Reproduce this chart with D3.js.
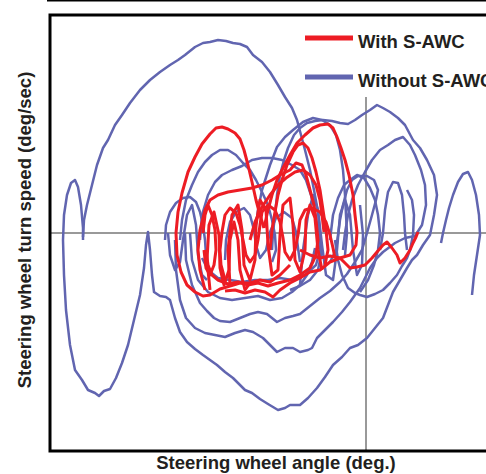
<!DOCTYPE html>
<head>
  <meta charset="utf-8">
  <script src="https://d3js.org/d3.v7.min.js"></script>
  <style>
    body { margin: 0; background: #fff; }
    svg { width: 486px; height: 474px; display: block; }
    text { font-family: "Liberation Sans", Arial, sans-serif; font-weight: bold; fill: #231f20; }
  </style>
</head>

<body>
  <svg></svg>
  <script>
    // [steering wheel angle, turn speed] pairs
    var outerLoop = [[-283,-7],[-283,5],[-285,28],[-288,46],[-291,53],[-295,50],[-299,38],[-302,18],[-303,-7],
      [-302,-42],[-300,-77],[-296,-112],[-291,-137],[-284,-147],[-278,-157],[-271,-160],[-267,-163],[-262,-158],
      [-256,-156],[-250,-145],[-244,-130],[-238,-112],[-232,-87],[-226,-62],[-222,-35],[-220,-12],[-218,1],
      [-216,-17],[-214,-42],[-212,-59],[-206,-63],[-200,-64],[-196,-67],[-191,-85],[-186,-99],[-179,-109],
      [-171,-116],[-163,-122],[-156,-127],[-149,-132],[-141,-139],[-133,-145],[-126,-152],[-121,-157],[-114,-160],
      [-106,-166],[-98,-171],[-88,-177],[-81,-175],[-76,-172],[-66,-172],[-58,-165],[-49,-155],[-41,-144],
      [-33,-132],[-24,-124],[-16,-115],[-8,-112],[1,-105],[9,-95],[17,-85],[22,-72],[27,-59],[34,-47],[41,-35],
      [46,-27],[51,-22],[57,-12],[64,-2],[68,18],[71,38],[68,58],[61,73],[54,85],[47,93],[39,108],[32,115],
      [24,121],[17,125],[11,128],[4,123],[-4,118],[-11,113],[-18,109],[-26,110],[-34,112],[-43,113],[-51,112],
      [-59,110],[-66,105],[-72,98],[-78,85],[-82,73],[-86,58],[-89,38],[-91,18],[-93,0],[-94,-17]];
    var topArc = [[-283,-4],[-282,13],[-279,28],[-274,48],[-269,68],[-263,85],[-258,93],[-251,108],[-244,118],
      [-236,130],[-226,143],[-216,153],[-206,161],[-196,168],[-188,173],[-181,178],[-171,186],[-163,190],
      [-156,191],[-148,193],[-140,192],[-133,190],[-126,189],[-119,186],[-113,178],[-104,171],[-96,161],
      [-88,148],[-81,136],[-74,125],[-69,113],[-65,98],[-61,83],[-56,63],[-52,43],[-48,21],[-46,0],[-45,-22],
      [-48,-37],[-56,-47],[-66,-53],[-76,-57]];
    var secondLoop = [[-191,-7],[-190,-37],[-186,-67],[-180,-85],[-171,-95],[-161,-100],[-151,-102],[-141,-104],
      [-131,-100],[-121,-97],[-113,-99],[-103,-105],[-96,-112],[-89,-119],[-81,-115],[-73,-115],[-66,-119],
      [-58,-117],[-54,-115],[-49,-105],[-41,-97],[-33,-89],[-24,-79],[-16,-69],[-6,-55],[4,-35],[11,-25],
      [17,-19],[29,-10],[39,-5],[49,-3],[56,8],[60,28],[59,48],[55,63],[49,78],[44,88],[37,96],[29,93],[22,88],
      [14,83],[6,73],[-1,61],[-8,48],[-14,33],[-18,18],[-21,0],[-23,-17]];
    var thirdLoop = [[-181,0],[-180,-27],[-174,-52],[-166,-70],[-159,-78],[-152,-85],[-146,-88],[-136,-89],
      [-126,-85],[-116,-81],[-108,-79],[-99,-81],[-89,-89],[-81,-85],[-73,-83],[-66,-81],[-56,-73],[-46,-65],
      [-36,-58],[-26,-49],[-19,-41],[-11,-29],[-4,-17],[1,0],[6,18],[10,33],[12,43],[8,53],[1,57],[-8,57],
      [-14,53],[-19,43],[-23,28],[-26,13],[-28,-2],[-30,-17],[-36,-29]];
    var rightDip = [[-31,-7],[-28,-27],[-24,-42],[-18,-55],[-11,-60],[-6,-62],[1,-64],[9,-61],[17,-57],[24,-50],
      [31,-42],[36,-33],[41,-25],[44,-17],[47,-2],[48,18],[46,33],[41,43]];
    var rightBump = [[14,-17],[17,0],[19,23],[22,41],[27,51],[32,50],[36,38],[38,18],[39,0],[41,-17]];
    var farRightBump = [[106,-62],[108,-42],[111,-22],[114,-2],[113,18],[110,38],[106,53],[102,61],[97,59],
      [92,51],[87,38],[83,25],[80,13],[77,0],[75,-10]];
    var midArcA = [[-186,-7],[-184,13],[-180,33],[-174,48],[-168,61],[-161,71],[-154,78],[-146,83],[-138,83],
      [-130,78],[-123,70],[-116,63],[-110,53],[-104,41],[-98,28],[-94,13],[-91,-2],[-90,-17],[-94,-29]];
    var midLoopB = [[-166,-7],[-164,18],[-158,38],[-151,51],[-144,58],[-134,63],[-124,67],[-114,73],[-104,75],
      [-94,75],[-84,73],[-74,68],[-66,63],[-60,53],[-55,38],[-51,21],[-48,3],[-46,-17],[-50,-32],[-61,-42],
      [-74,-47],[-86,-45],[-98,-47],[-111,-47],[-124,-49],[-136,-47],[-148,-45],[-158,-37],[-164,-25]];
    var midArcC = [[-111,0],[-108,23],[-104,43],[-96,68],[-89,86],[-81,96],[-73,103],[-63,111],[-53,115],
      [-44,113],[-36,108],[-30,98],[-26,83],[-23,63],[-21,38],[-20,18],[-19,0],[-21,-22]];
    var lowArcD = [[-176,0],[-174,-27],[-168,-47],[-158,-59],[-146,-65],[-134,-67],[-121,-65],[-108,-63],
      [-96,-67],[-84,-65],[-74,-59],[-66,-52],[-59,-42],[-54,-29],[-51,-15]];
    var nearZeroE = [[-36,-7],[-33,18],[-28,35],[-22,48],[-16,53],[-9,58],[-2,55],[4,45],[9,33],[12,18],[14,0],
      [12,-17],[8,-32],[2,-47],[-6,-59]];
    var leftBumpF = [[-201,-7],[-200,8],[-196,21],[-190,30],[-183,35],[-176,36],[-170,31],[-166,21],[-163,8],
      [-161,-7],[-160,-22]];
    var wiggleG = [[-141,-27],[-140,-7],[-136,11],[-130,21],[-122,25],[-116,18],[-112,3],[-110,-12],[-106,-25],
      [-100,-17],[-96,1],[-90,15],[-82,21],[-74,15],[-70,1],[-68,-15],[-66,-29]];
    var wiggleH = [[-66,-52],[-63,-17],[-58,18],[-53,38],[-48,23],[-44,-12],[-40,-42],[-33,-47],[-29,-17],
      [-26,18],[-21,33],[-16,18],[-13,-17],[-9,-42],[-4,-32],[-3,-2],[-6,28]];
    var wiggleI = [[-198,0],[-196,-22],[-191,-37],[-186,-29],[-183,-7],[-179,18],[-174,28],[-170,8],[-168,-22],
      [-164,-42],[-159,-47]];

    var redLeft = [[-76,-32],[-86,-42],[-96,-49],[-106,-47],[-116,-50],[-126,-50],[-136,-53],[-146,-56],
      [-156,-62],[-163,-63],[-171,-59],[-179,-52],[-185,-39],[-189,-22],[-190,0],[-188,21],[-184,40],[-178,61],
      [-171,76],[-164,89],[-156,99],[-150,105],[-144,106],[-138,104],[-131,100],[-126,94],[-122,83],[-118,68],
      [-114,51],[-110,33],[-106,18],[-102,5]];
    var redRight = [[-102,5],[-98,23],[-94,38],[-89,53],[-83,65],[-76,78],[-69,90],[-61,98],[-53,105],[-46,108],
      [-38,109],[-33,105],[-29,96],[-25,85],[-21,73],[-17,58],[-13,38],[-11,18],[-9,1],[-10,-12],[-16,-22],
      [-26,-25],[-36,-29],[-46,-37],[-56,-39],[-66,-45],[-76,-50],[-86,-57],[-93,-64],[-101,-59],[-111,-57],
      [-121,-60],[-131,-57],[-141,-58]];
    var redTail = [[-66,-17],[-56,-22],[-46,-25],[-36,-23],[-26,-25],[-16,-35],[-9,-34],[-1,-32],[6,-25],[11,-19],
      [17,-12],[21,-9],[26,-15],[31,-22],[34,-30],[39,-25],[44,-17],[47,-10],[50,-4],[52,1]];
    var redInner = [[-161,-57],[-166,-37],[-168,-17],[-166,3],[-161,23],[-156,33],[-148,38],[-138,41],[-126,43],
      [-114,45],[-104,48],[-94,53],[-86,58],[-76,63],[-70,70],[-64,68],[-60,58],[-56,43],[-52,28],[-50,13],
      [-48,-7],[-50,-22],[-56,-35],[-66,-42],[-76,-47],[-88,-50],[-98,-53],[-108,-50],[-118,-52],[-128,-49],
      [-138,-51],[-148,-47],[-154,-42],[-158,-32],[-160,-17]];
    var redWiggle = [[-141,-47],[-145,-32],[-146,-17],[-144,1],[-141,18],[-136,25],[-130,20],[-126,8],[-123,-7],
      [-120,-22],[-116,-29],[-111,-22],[-108,-7],[-106,8],[-104,21],[-98,28],[-91,23],[-86,11],[-83,-5],
      [-81,-19],[-76,-27],[-71,-17],[-68,-2],[-66,13],[-61,23],[-54,25],[-46,21],[-40,11],[-36,-2],[-33,-15],
      [-31,-25]];
    var redArcHigh = [[-96,-17],[-94,3],[-91,21],[-88,38],[-84,53],[-79,68],[-73,81],[-68,88],[-63,90],[-58,85],
      [-54,75],[-50,61],[-46,43],[-43,23],[-40,3],[-38,-17],[-41,-32]];
    var redArcMid = [[-116,-7],[-111,11],[-104,26],[-96,38],[-88,48],[-80,55],[-71,61],[-63,63],[-56,58],
      [-50,48],[-46,33],[-44,18],[-42,1]];
    var redSmall = [[-163,0],[-161,18],[-158,28],[-154,18],[-151,3],[-150,-17],[-152,-32],[-156,-42],[-160,-35],
      [-162,-17]];
    var redSquiggleA = [[-136,-52],[-138,-17],[-134,18],[-128,28],[-124,3],[-122,-32],[-116,-47],[-111,-27],
      [-110,8],[-106,33],[-100,23],[-98,-12],[-94,-42],[-88,-37],[-86,-2],[-83,28],[-76,35],[-73,8],[-71,-27],
      [-66,-39],[-61,-17],[-60,13],[-56,28],[-51,15],[-48,-17],[-44,-37]];
    var redSquiggleB = [[-156,-57],[-159,-27],[-157,8],[-152,21],[-147,-2],[-146,-35],[-142,-52],[-137,-37],
      [-136,-7],[-132,11],[-128,-7],[-126,-37],[-121,-57],[-116,-50]];

    var withoutSawc = [outerLoop, topArc, secondLoop, thirdLoop, rightDip, rightBump, farRightBump,
      midArcA, midLoopB, midArcC, lowArcD, nearZeroE, leftBumpF, wiggleG, wiggleH, wiggleI];
    var withSawc = [redLeft, redRight, redTail, redInner, redWiggle, redArcHigh, redArcMid, redSmall,
      redSquiggleA, redSquiggleB];
    var legendLabels = ['With S-AWC', 'Without S-AWC'];
    var legendColors = ['#ed1c24', '#6165b0'];

    var svg = d3.select('svg');
    var plotLeft = 50, plotTop = 15, plotBottom = 451, plotRight = 486;

    var x = d3.scaleLinear().domain([-316, 120]).range([plotLeft, plotRight]);
    var y = d3.scaleLinear().domain([-218, 218]).range([plotBottom, plotTop]);

    // top rule
    svg.append('line')
      .attr('x1', 47).attr('x2', 486).attr('y1', 0.5).attr('y2', 0.5)
      .attr('stroke', '#000').attr('stroke-width', 2);

    // zero lines
    svg.append('line')
      .attr('x1', plotLeft).attr('x2', plotRight).attr('y1', y(0)).attr('y2', y(0))
      .attr('stroke', '#777').attr('stroke-width', 1.5);
    svg.append('line')
      .attr('x1', x(0)).attr('x2', x(0)).attr('y1', 97).attr('y2', plotBottom)
      .attr('stroke', '#777').attr('stroke-width', 1.5);

    var line = d3.line()
      .x(function(d) { return x(d[0]); })
      .y(function(d) { return y(d[1]); });

    svg.append('g').selectAll('path')
      .data(withoutSawc).enter().append('path')
      .attr('d', line)
      .attr('fill', 'none')
      .attr('stroke', legendColors[1])
      .attr('stroke-width', 2.5)
      .attr('stroke-linejoin', 'round');

    svg.append('g').selectAll('path')
      .data(withSawc).enter().append('path')
      .attr('d', line)
      .attr('fill', 'none')
      .attr('stroke', legendColors[0])
      .attr('stroke-width', 3)
      .attr('stroke-linejoin', 'round');

    // frame
    svg.append('path')
      .attr('d', 'M' + [plotRight + 5, plotTop] + 'L' + [plotLeft, plotTop] + 'L' + [plotLeft, plotBottom] +
        'L' + [plotRight + 5, plotBottom])
      .attr('fill', 'none')
      .attr('stroke', '#000')
      .attr('stroke-width', 3);

    // legend
    var legend = svg.selectAll('g.legend')
      .data(legendLabels).enter().append('g')
      .classed('legend', true)
      .attr('transform', function(d, i) { return 'translate(305,' + (38 + i * 39) + ')'; });
    legend.append('line')
      .attr('x1', 0).attr('x2', 48)
      .attr('stroke', function(d, i) { return legendColors[i]; })
      .attr('stroke-width', 5);
    legend.append('text')
      .attr('x', 53).attr('y', 4)
      .attr('dy', '0.3em')
      .style('font-size', '18.5px')
      .text(function(d) { return d; });

    // axis titles
    svg.append('text')
      .attr('x', 276).attr('y', 469)
      .attr('text-anchor', 'middle')
      .style('font-size', '18.5px')
      .text('Steering wheel angle (deg.)');
    svg.append('text')
      .attr('transform', 'translate(31,230)rotate(-90)')
      .attr('text-anchor', 'middle')
      .style('font-size', '18.5px')
      .text('Steering wheel turn speed (deg/sec)');
  </script>
</body>
